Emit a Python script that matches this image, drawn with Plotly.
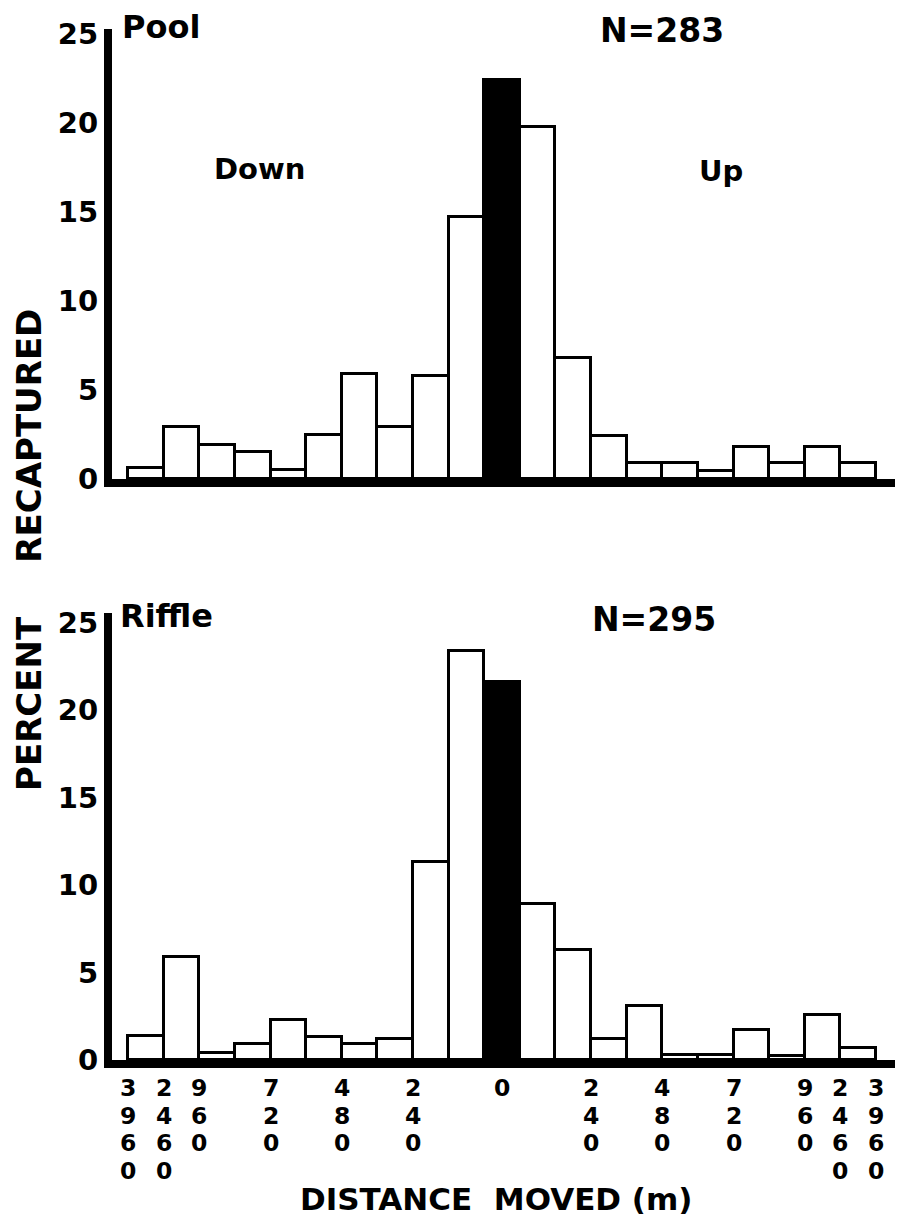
import plotly.graph_objects as go
from plotly.subplots import make_subplots

# ---------------- data ----------------
# bins (m) downstream: 3960-2460, 2460-960, 960-840, ... 120-0 ; then "0" (not moved) ; upstream mirror
down_edges = [3960, 2460, 960, 840, 720, 600, 480, 360, 240, 120, 0]
up_edges = [0, 120, 240, 360, 480, 600, 720, 840, 960, 2460, 3960]

pool_pct = [0.6, 2.9, 1.9, 1.5, 0.5, 2.5, 5.9, 2.9, 5.8, 14.7,
            22.4,
            19.8, 6.8, 2.4, 0.9, 0.9, 0.45, 1.8, 0.9, 1.8, 0.9]
riffle_pct = [1.4, 5.9, 0.4, 0.9, 2.3, 1.3, 0.9, 1.2, 11.3, 23.4,
              21.6,
              8.9, 6.3, 1.2, 3.1, 0.3, 0.3, 1.7, 0.25, 2.6, 0.7]

down_tick_labels = [3960, 2460, 960, 720, 480, 240]
up_tick_labels = [240, 480, 720, 960, 2460, 3960]
zero_label = "0"

panel_names = ["Pool", "Riffle"]
panel_n = ["N=283", "N=295"]
y_ticks = [0, 5, 10, 15, 20, 25]

# ---------------- derived positions ----------------
n_down = len(down_edges) - 1
zero_idx = n_down
x_idx = list(range(len(pool_pct)))
tick_pos, tick_txt = [], []
for v in down_tick_labels:
    tick_pos.append(down_edges.index(v) - 0.5)
    tick_txt.append(str(v))
tick_pos.append(zero_idx)
tick_txt.append(zero_label)
for v in up_tick_labels:
    tick_pos.append(zero_idx + 1 + up_edges.index(v) - 0.5)
    tick_txt.append(str(v))

FONT = "DejaVu Sans, Arial, sans-serif"
colors = ["white"] * len(pool_pct)
colors[zero_idx] = "black"

fig = make_subplots(rows=2, cols=1)

for r, vals in enumerate([pool_pct, riffle_pct], start=1):
    fig.add_trace(go.Bar(
        x=x_idx, y=vals, width=1.0,
        marker=dict(color=colors, line=dict(color="black", width=3)),
        showlegend=False, hoverinfo="skip"), row=r, col=1)

xr = [-0.949, 21.03]
common_x = dict(range=xr, showline=True, linewidth=8, linecolor="black",
                showticklabels=False, ticks="", showgrid=False, zeroline=False, domain=[0, 1])
common_y = dict(showline=True, linewidth=8, linecolor="black", tickvals=y_ticks, ticks="",
                tickfont=dict(family=FONT, size=29, weight="bold"),
                showgrid=False, zeroline=False)
fig.update_layout(
    width=897, height=1211,
    margin=dict(l=104, r=10, t=21, b=159),
    plot_bgcolor="white", paper_bgcolor="white",
    bargap=0,
    font=dict(family=FONT, color="black"),
    xaxis=common_x, xaxis2=common_x,
    yaxis=dict(common_y, domain=[0.5635, 1.0], range=[0, 25.28]),
    yaxis2=dict(common_y, domain=[0.0, 0.4336], range=[0, 25.57]),
)

ann = []
def txt(t, x, y, size, xanchor="center", angle=0):
    ann.append(dict(text=t, x=x, y=y, xref="paper", yref="paper", showarrow=False,
                    xanchor=xanchor, yanchor="middle", textangle=angle,
                    font=dict(family=FONT, size=size, color="black", weight="bold")))

txt(panel_names[0], 0.0102, 1.002, 32, xanchor="left")
txt(panel_n[0], 0.7024, 0.999, 33)
txt("Down", 0.189, 0.8642, 29)
txt("Up", 0.7778, 0.8623, 29)
txt(panel_names[1], 0.0077, 0.4306, 32, xanchor="left")
txt(panel_n[1], 0.6922, 0.4268, 33)
txt("DISTANCE\u00a0\u00a0MOVED\u00a0(m)", 0.4904, -0.1349, 31)
txt("PERCENT\u00a0\u00a0\u00a0\u00a0\u2009RECAPTURED", -0.106, 0.4947, 34, angle=-90)

# vertical stacked tick labels under the lower panel
for p, t in zip(tick_pos, tick_txt):
    for k, ch in enumerate(t):
        ann.append(dict(text=ch, x=p, y=0, xref="x2", yref="paper", showarrow=False,
                        xanchor="center", yanchor="middle", yshift=-28 - 27.6 * k,
                        font=dict(family=FONT, size=23.5, color="black", weight="bold")))

fig.update_layout(annotations=ann)
fig.write_html("out.html")
